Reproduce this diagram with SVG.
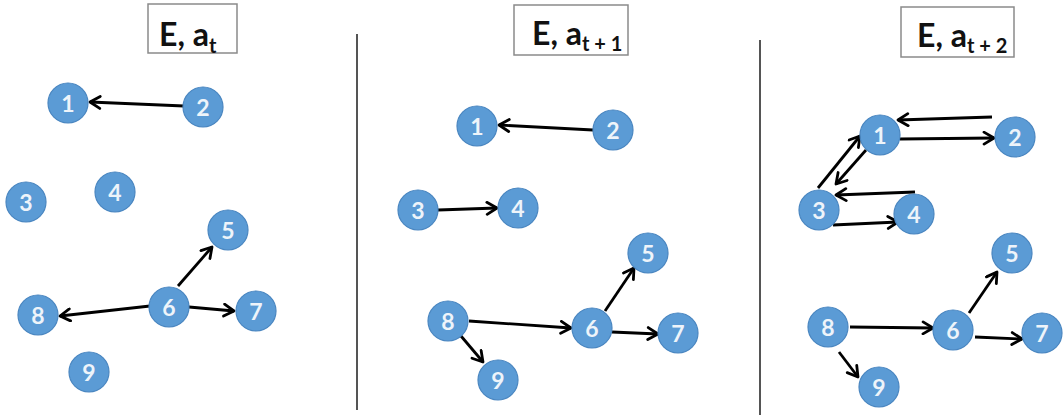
<svg xmlns="http://www.w3.org/2000/svg" width="1063" height="415" viewBox="0 0 1063 415">
<style>
.node circle{fill:#5b9bd5;stroke:#4a86c0;stroke-width:1.2}
.node text{fill:#eef4fa;font-family:Lato,"Open Sans","Liberation Sans",sans-serif;font-size:23px;font-weight:bold;text-anchor:middle;dominant-baseline:central}
.title rect{fill:#fff;stroke:#8a8a8a;stroke-width:1.5}
.title text{fill:#111;font-family:Lato,"Liberation Sans",sans-serif;font-weight:bold;font-size:32px}
.sep{stroke:#555;stroke-width:2}
.edges line{stroke:#000;stroke-width:2.8;marker-end:url(#ah)}
</style>
<defs>
<marker id="ah" viewBox="0 0 15 15" refX="13" refY="7.5" markerWidth="15" markerHeight="15" markerUnits="userSpaceOnUse" orient="auto">
<path d="M3,1.5 L13,7.5 L3,13.5" fill="none" stroke="#000" stroke-width="2.8" stroke-linejoin="round" stroke-linecap="round"/>
</marker>
</defs>
<rect width="1063" height="415" fill="#fff"/>
<g id="titles">
<g id="title1" class="title"><rect x="148" y="4" width="89" height="49"/><text x="159" y="46">E, a<tspan font-size="20" dy="7">t</tspan></text></g>
<g id="title2" class="title"><rect x="514" y="5" width="114" height="50"/><text x="532" y="45">E, a<tspan font-size="20" dy="6">t + 1</tspan></text></g>
<g id="title3" class="title"><rect x="901" y="7" width="113" height="50"/><text x="917" y="47">E, a<tspan font-size="20" dy="6">t + 2</tspan></text></g>
</g>
<line class="sep" x1="357" y1="34" x2="357" y2="410"/>
<line class="sep" x1="760" y1="40" x2="760" y2="415"/>
<g class="edges" id="connectors">
<line x1="184" y1="106" x2="90" y2="102"/>
<line x1="178" y1="286" x2="212" y2="247"/>
<line x1="150" y1="306" x2="60" y2="316"/>
<line x1="189" y1="307" x2="234" y2="311"/>
<line x1="593" y1="130" x2="499" y2="125"/>
<line x1="438" y1="210" x2="497" y2="208"/>
<line x1="605" y1="311" x2="634" y2="268"/>
<line x1="469" y1="321" x2="571" y2="328"/>
<line x1="612" y1="332" x2="658" y2="334"/>
<line x1="461" y1="336" x2="483" y2="362"/>
<line x1="992" y1="117" x2="898" y2="120"/>
<line x1="900" y1="139" x2="994" y2="138"/>
<line x1="818" y1="188" x2="860" y2="136"/>
<line x1="866" y1="150" x2="836" y2="184"/>
<line x1="915" y1="192" x2="836" y2="195"/>
<line x1="833" y1="225" x2="898" y2="222"/>
<line x1="850" y1="327" x2="933" y2="328"/>
<line x1="969" y1="313" x2="997" y2="272"/>
<line x1="975" y1="337" x2="1022" y2="339"/>
<line x1="839" y1="352" x2="858" y2="377"/>
</g>
<g id="p1n1" class="node"><circle cx="68" cy="103" r="20"/><text x="68" y="103">1</text></g>
<g id="p1n2" class="node"><circle cx="203" cy="107" r="20"/><text x="203" y="107">2</text></g>
<g id="p1n3" class="node"><circle cx="26" cy="202" r="20"/><text x="26" y="202">3</text></g>
<g id="p1n4" class="node"><circle cx="115" cy="192" r="20"/><text x="115" y="192">4</text></g>
<g id="p1n5" class="node"><circle cx="228" cy="230" r="20"/><text x="228" y="230">5</text></g>
<g id="p1n6" class="node"><circle cx="169" cy="307" r="20"/><text x="169" y="307">6</text></g>
<g id="p1n7" class="node"><circle cx="256" cy="311" r="20"/><text x="256" y="311">7</text></g>
<g id="p1n8" class="node"><circle cx="38" cy="315" r="20"/><text x="38" y="315">8</text></g>
<g id="p1n9" class="node"><circle cx="89" cy="372" r="20"/><text x="89" y="372">9</text></g>
<g id="p2n1" class="node"><circle cx="477" cy="126" r="20"/><text x="477" y="126">1</text></g>
<g id="p2n2" class="node"><circle cx="613" cy="130" r="20"/><text x="613" y="130">2</text></g>
<g id="p2n3" class="node"><circle cx="418" cy="210" r="20"/><text x="418" y="210">3</text></g>
<g id="p2n4" class="node"><circle cx="518" cy="208" r="20"/><text x="518" y="208">4</text></g>
<g id="p2n5" class="node"><circle cx="648" cy="253" r="20"/><text x="648" y="253">5</text></g>
<g id="p2n6" class="node"><circle cx="592" cy="328" r="20"/><text x="592" y="328">6</text></g>
<g id="p2n7" class="node"><circle cx="678" cy="333" r="20"/><text x="678" y="333">7</text></g>
<g id="p2n8" class="node"><circle cx="448" cy="321" r="20"/><text x="448" y="321">8</text></g>
<g id="p2n9" class="node"><circle cx="498" cy="380" r="20"/><text x="498" y="380">9</text></g>
<g id="p3n1" class="node"><circle cx="880" cy="135" r="20"/><text x="880" y="135">1</text></g>
<g id="p3n2" class="node"><circle cx="1015" cy="137" r="20"/><text x="1015" y="137">2</text></g>
<g id="p3n3" class="node"><circle cx="819" cy="210" r="20"/><text x="819" y="210">3</text></g>
<g id="p3n4" class="node"><circle cx="914" cy="214" r="20"/><text x="914" y="214">4</text></g>
<g id="p3n5" class="node"><circle cx="1012" cy="253" r="20"/><text x="1012" y="253">5</text></g>
<g id="p3n6" class="node"><circle cx="953" cy="330" r="20"/><text x="953" y="330">6</text></g>
<g id="p3n7" class="node"><circle cx="1042" cy="333" r="20"/><text x="1042" y="333">7</text></g>
<g id="p3n8" class="node"><circle cx="828" cy="327" r="20"/><text x="828" y="327">8</text></g>
<g id="p3n9" class="node"><circle cx="879" cy="387" r="20"/><text x="879" y="387">9</text></g>
</svg>
